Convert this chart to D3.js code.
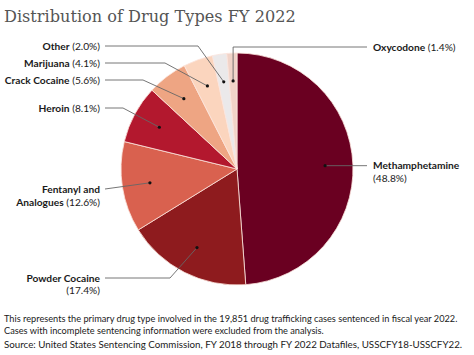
<!DOCTYPE html>
<html><head><meta charset="utf-8">
<script src="https://cdn.jsdelivr.net/npm/d3@7/dist/d3.min.js"></script>
<style>
body{margin:0;background:#fff;}
svg{display:block;}
</style></head>
<body>
<svg id="c" width="474" height="355"></svg>
<script>
const categories = ["Methamphetamine","Powder Cocaine","Fentanyl and Analogues","Heroin","Crack Cocaine","Marijuana","Other","Oxycodone"];
const values = [48.8,17.4,12.6,8.1,5.6,4.1,2.0,1.4];
const labelNames = [["Methamphetamine"],["Powder Cocaine"],["Fentanyl and","Analogues"],["Heroin"],["Crack Cocaine"],["Marijuana"],["Other"],["Oxycodone"]];
const colors = ["#6a0021","#8e1b1e","#d9614f","#b3182e","#eea583","#fbd5be","#ebe9ea","#f1d3c8"];
const title = "Distribution of Drug Types FY 2022";
const notes = ["This represents the primary drug type involved in the 19,851 drug trafficking cases sentenced in fiscal year 2022.",
"Cases with incomplete sentencing information were excluded from the analysis.",
"Source: United States Sentencing Commission, FY 2018 through FY 2022 Datafiles, USSCFY18-USSCFY22."];

const svg = d3.select("#c");
const cx = 237, cy = 169, R = 116;

const t = svg.append("text").attr("x",4).attr("y",22)
  .attr("font-family","DejaVu Serif").attr("font-size",20).attr("fill","#555").text(title);
let tw = t.node().getComputedTextLength();
t.attr("font-size", 20*292/tw);

const pie = d3.pie().sort(null).value(d=>d)(values);
const arc = d3.arc().innerRadius(0).outerRadius(R);
const dotArc = d3.arc().innerRadius(R*0.76).outerRadius(R*0.76);
const g = svg.append("g").attr("transform",`translate(${cx},${cy})`);
g.selectAll("path").data(pie).join("path").attr("d",arc)
  .attr("fill",(d,i)=>colors[i]).attr("stroke","#fbe4dd").attr("stroke-width",0.8);

const layout = [
 {side:"R", y:165, type:"h"},
 {side:"L", y:279, elbow:170, two:true},
 {side:"L", y:190, direct:true},
 {side:"L", y:109, elbow:123},
 {side:"L", y:81, elbow:143},
 {side:"L", y:64, elbow:165},
 {side:"L", y:47, elbow:198},
 {side:"R", y:47, type:"v"}
];
const font = "Lato";
const fs = 10.2;
const lineG = svg.append("g");
pie.forEach((d,i)=>{
  const c = dotArc.centroid(d);
  const dx = cx + c[0], dy = cy + c[1];
  const L = layout[i];
  let pts;
  if (L.side==="R") {
    if (L.type==="v") pts = [[dx,dy],[dx,L.y],[367,L.y]];
    else pts = [[dx,dy],[367,dy]];
  } else {
    const ly = L.y - 1;
    if (L.direct) pts = [[105,ly],[dx,dy]];
    else pts = [[105,ly],[L.elbow,ly],[dx,dy]];
  }
  lineG.append("path").attr("d",d3.line()(pts)).attr("fill","none").attr("stroke","#666").attr("stroke-width",0.9);
  lineG.append("circle").attr("cx",dx).attr("cy",dy).attr("r",1.6).attr("fill","#111");

  const pct = `(${values[i].toFixed(1)}%)`;
  const names = labelNames[i];
  const txt = svg.append("text").attr("font-family",font).attr("font-size",fs).attr("fill","#1a1a1a");
  if (L.side==="R") {
    txt.attr("x",373).attr("y",L.y+3.5).attr("text-anchor","start");
    txt.append("tspan").attr("font-weight","bold").text(names[0]);
    if (i===0) txt.append("tspan").attr("x",373).attr("dy",13).text(pct);
    else txt.append("tspan").text(" "+pct);
  } else {
    txt.attr("text-anchor","end").attr("x",100).attr("y",L.y+3);
    txt.append("tspan").attr("font-weight","bold").text(names[0]);
    if (names.length===2) {
      const t2 = svg.append("text").attr("font-family",font).attr("font-size",fs).attr("fill","#1a1a1a")
        .attr("text-anchor","end").attr("x",100).attr("y",L.y+16);
      t2.append("tspan").attr("font-weight","bold").text(names[1]);
      t2.append("tspan").text(" "+pct);
    } else if (L.two) {
      svg.append("text").attr("font-family",font).attr("font-size",fs).attr("fill","#1a1a1a")
        .attr("text-anchor","end").attr("x",100).attr("y",L.y+15).text(pct);
    } else {
      txt.append("tspan").text(" "+pct);
    }
  }
});

const ny = [322,334,348];
const nfs = [];
notes.forEach((n,i)=>{
  const nt = svg.append("text").attr("x",4).attr("y",ny[i]).attr("font-family",font).attr("font-size",10)
    .attr("fill","#1a1a1a").text(n);
  nfs.push(nt);
});
const w0 = nfs[0].node().getComputedTextLength();
const w2 = nfs[2].node().getComputedTextLength();
const s0 = 10*454/w0, s2 = 10*459/w2;
nfs[0].attr("font-size",s0); nfs[1].attr("font-size",s0); nfs[2].attr("font-size",s2);
</script>
</body></html>
